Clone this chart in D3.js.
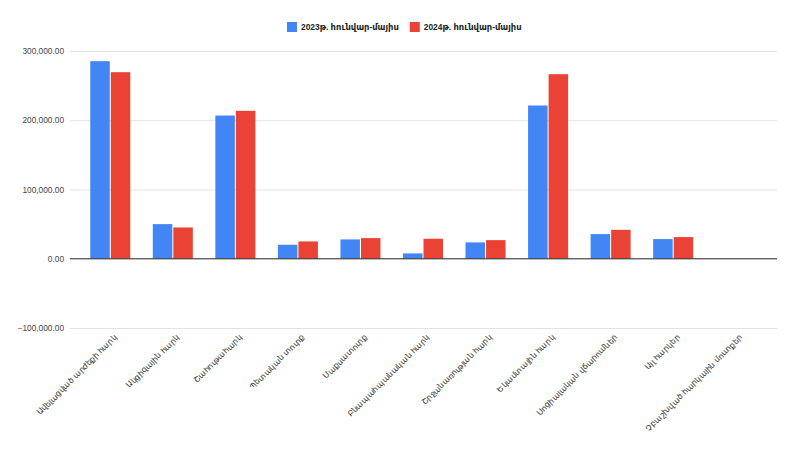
<!DOCTYPE html>
<html>
<head>
<meta charset="utf-8">
<script src="https://cdn.jsdelivr.net/npm/d3@7"></script>
<style>
  html, body { margin: 0; padding: 0; background: #fff; }
  svg { display: block; font-family: Arial, "Liberation Sans", "DejaVu Sans", sans-serif; }
</style>
</head>
<body>
<svg id="chart" width="800" height="451"></svg>
<script>
const categories = [
  "Ավելացված արժեքի հարկ",
  "Ակցիզային հարկ",
  "Շահութահարկ",
  "Պետական տուրք",
  "Մաքսատուրք",
  "Բնապահպանական հարկ",
  "Շրջանառության հարկ",
  "Եկամտային հարկ",
  "Սոցիալական վճարումներ",
  "Այլ հարկեր",
  "Չբաշխված հարկային մուտքեր"
];
const seriesNames = ["2023թ. հունվար-մայիս", "2024թ. հունվար-մայիս"];
const values2023 = [285300, 50000, 206800, 20200, 27900, 7700, 23600, 221300, 35600, 28400, 0];
const values2024 = [269400, 45200, 213600, 25000, 29800, 28900, 26900, 266500, 41800, 31300, 0];
const yTicks = [-100000, 0, 100000, 200000, 300000];
const colors = ["#4285f4", "#ea4335"];

const svg = d3.select("#chart");
const x = d3.scaleBand().domain(categories).range([79, 767]).paddingInner(0.36).paddingOuter(0.18);
const x1 = d3.scaleBand().domain([0, 1]).range([0, x.bandwidth()]).paddingInner(0.05);
const y = d3.scaleLinear().domain([-100000, 300000]).range([328, 51]);
const fmt = d3.format(",.2f");

// gridlines + y labels
const yAxis = d3.axisLeft(y).tickValues(yTicks).tickFormat(fmt).tickSize(-(777 - 70)).tickPadding(6);
const gy = svg.append("g").attr("transform", "translate(70,0)").call(yAxis);
gy.select(".domain").remove();
gy.selectAll(".tick line").attr("stroke", "#e3e3e3").attr("stroke-width", 1);
gy.selectAll(".tick text").attr("fill", "#444").attr("font-size", 8.3);

// bars
const data = categories.map((c, i) => ({ c, v: [values2023[i], values2024[i]] }));
const groups = svg.append("g").selectAll("g").data(data).join("g")
  .attr("transform", d => `translate(${x(d.c)},0)`);
groups.selectAll("rect").data(d => d.v.map((v, k) => ({ v, k }))).join("rect")
  .attr("x", d => x1(d.k))
  .attr("width", x1.bandwidth())
  .attr("y", d => y(Math.max(0, d.v)))
  .attr("height", d => Math.abs(y(d.v) - y(0)))
  .attr("fill", d => colors[d.k]);

// zero baseline
svg.append("line").attr("x1", 70).attr("x2", 777).attr("y1", y(0)).attr("y2", y(0))
  .attr("stroke", "#333").attr("stroke-width", 1);

// x labels
const xAxis = d3.axisBottom(x).tickSize(0).tickPadding(0);
const gx = svg.append("g").attr("transform", "translate(0,336)").call(xAxis);
gx.select(".domain").remove();
gx.selectAll(".tick text")
  .attr("fill", "#333").attr("font-size", 7.9)
  .attr("text-anchor", "end")
  .attr("dy", "0.35em")
  .attr("transform", "translate(5,0) rotate(-45)");

// legend
const legend = svg.append("g").attr("transform", "translate(287,22)");
let lx = 0;
seriesNames.forEach((name, i) => {
  const g = legend.append("g").attr("transform", `translate(${lx},0)`);
  g.append("rect").attr("width", 10).attr("height", 10).attr("fill", colors[i]);
  const t = g.append("text").attr("x", 14).attr("y", 5).attr("dy", "0.35em")
    .attr("font-size", 8.4).attr("font-weight", "bold").attr("fill", "#222").text(name);
  lx += 14 + t.node().getComputedTextLength() + 11;
});
</script>
</body>
</html>
